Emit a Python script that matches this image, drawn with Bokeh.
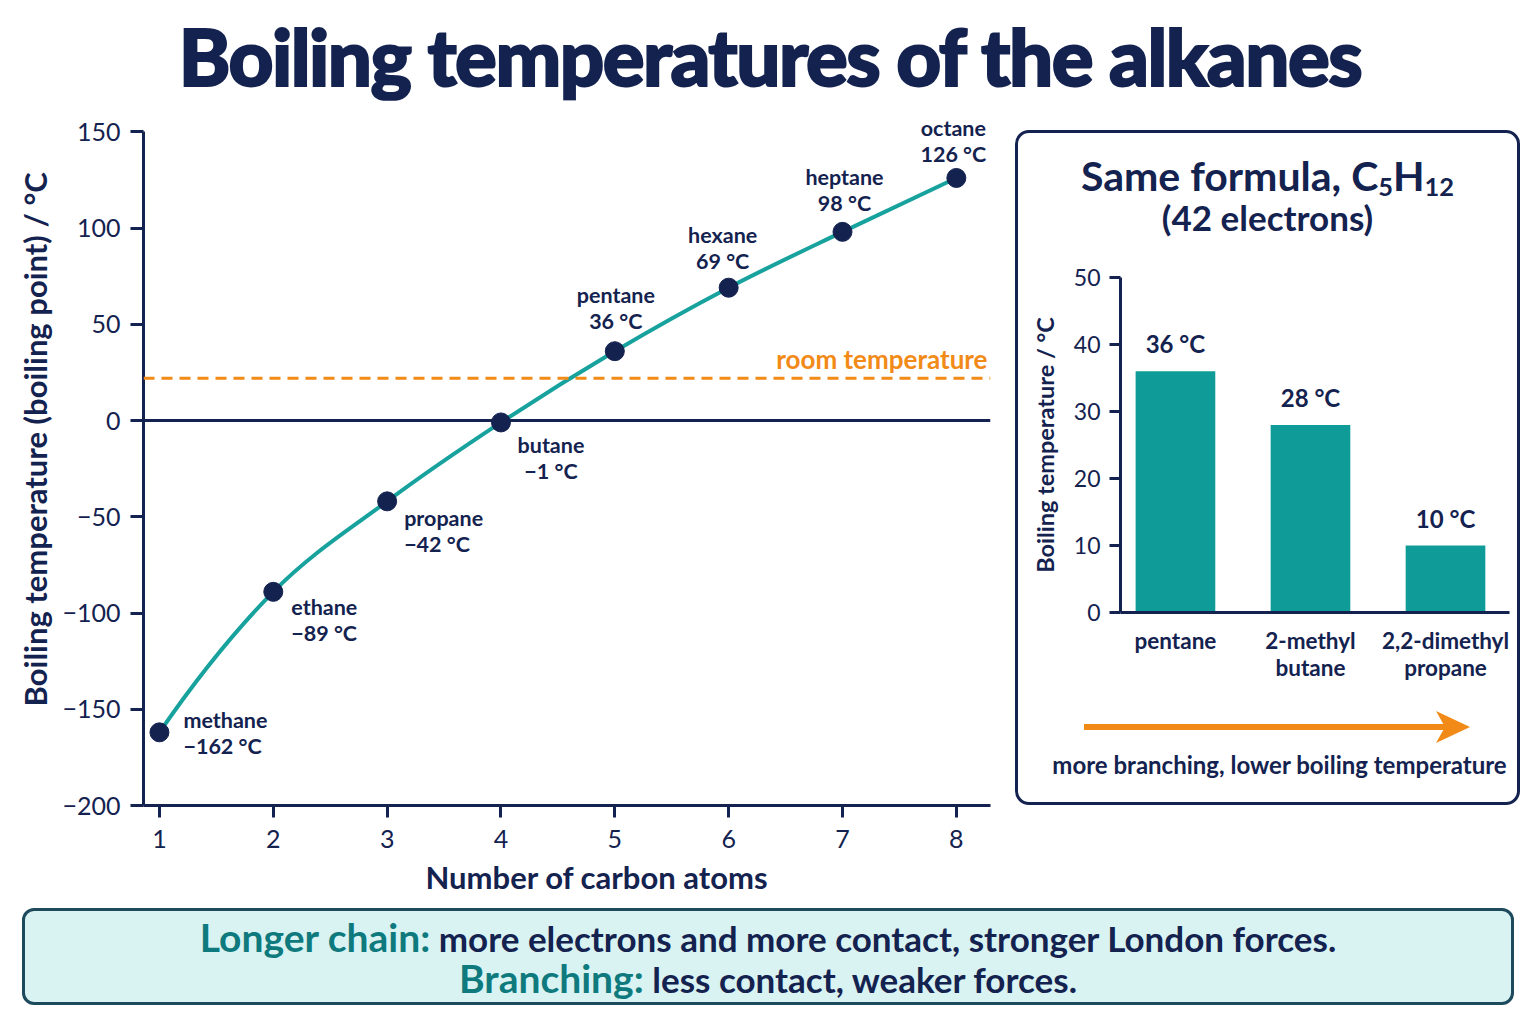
import numpy as np
from bokeh.plotting import figure
from bokeh.models import (ColumnDataSource, FixedTicker, Span, Div, Range1d, Spacer, Title)
from bokeh.layouts import column, row
from bokeh.core.properties import value
from bokeh.embed import file_html
from bokeh.resources import INLINE

# ---------------- data ----------------
alkane_names = ["methane", "ethane", "propane", "butane", "pentane", "hexane", "heptane", "octane"]
carbon_atoms = [1, 2, 3, 4, 5, 6, 7, 8]
boiling_points = [-162, -89, -42, -1, 36, 69, 98, 126]
room_temperature = 22
x_tick_values = [1, 2, 3, 4, 5, 6, 7, 8]
y_tick_values = [-200, -150, -100, -50, 0, 50, 100, 150]

isomer_labels = ["pentane", "2-methyl\nbutane", "2,2-dimethyl\npropane"]
isomer_boiling = [36, 28, 10]
bar_y_ticks = [0, 10, 20, 30, 40, 50]

# ---------------- style ----------------
FONT = "Lato"
NAVY = "#14224f"
TEAL = "#17a29d"
BAR_TEAL = "#0f9c98"
ORANGE = "#f28a17"
DARK_TEAL = "#0e7a7d"

# label placement: screen-pixel offsets from each point
label_dx = [24, 18, 17, 50, 1, -6, 2, -3]
label_dy = [1, 28, 30, 36, -43, -40, -42, -37]
label_align = ["left", "left", "left", "center", "center", "center", "center", "center"]


def num(v):
    return ("\u2212" if v < 0 else "") + f"{abs(v)}"


def temp(v):
    return num(v) + " \u00b0C"


def style_axis(ax, size="25px"):
    ax.axis_line_color = NAVY
    ax.axis_line_width = 3
    ax.major_tick_line_color = NAVY
    ax.major_tick_line_width = 3
    ax.major_tick_in = 0
    ax.minor_tick_line_color = None
    ax.major_label_text_font = FONT
    ax.major_label_text_font_size = size
    ax.major_label_text_color = NAVY
    ax.axis_label_text_font = FONT
    ax.axis_label_text_font_style = "bold"
    ax.axis_label_text_color = NAVY


# ---------------- main chart ----------------
p = figure(width=1005, height=800, x_range=Range1d(0.86, 8.3), y_range=Range1d(-200, 160),
           output_backend="svg", toolbar_location=None,
           min_border_left=143, min_border_right=15, min_border_top=12, min_border_bottom=95)
p.outline_line_color = None
p.grid.visible = False

p.add_layout(Span(location=0, dimension="width", line_color=NAVY, line_width=3))
p.add_layout(Span(location=room_temperature, dimension="width", line_color=ORANGE,
                  line_width=3, line_dash="11 7"))
p.text(x=[p.x_range.end], y=[room_temperature], text=["room temperature"],
       x_offset=-3, y_offset=-3, text_align="right", text_baseline="bottom",
       text_font=value(FONT), text_font_style="bold", text_font_size="26px", text_color=ORANGE)

# smooth curve through the points (Catmull-Rom as cubic Bezier segments,
# end tangents from quadratic extrapolation)
xs = np.array(carbon_atoms, float)
ys = np.array(boiling_points, float)
n = len(xs)
xp = np.concatenate([[3 * xs[0] - 3 * xs[1] + xs[2]], xs, [3 * xs[-1] - 3 * xs[-2] + xs[-3]]])
yp = np.concatenate([[3 * ys[0] - 3 * ys[1] + ys[2]], ys, [3 * ys[-1] - 3 * ys[-2] + ys[-3]]])
curve = ColumnDataSource(dict(
    x0=xs[:-1], y0=ys[:-1], x1=xs[1:], y1=ys[1:],
    cx0=xp[1:n] + (xp[2:n + 1] - xp[:n - 1]) / 6, cy0=yp[1:n] + (yp[2:n + 1] - yp[:n - 1]) / 6,
    cx1=xp[2:n + 1] - (xp[3:n + 2] - xp[1:n]) / 6, cy1=yp[2:n + 1] - (yp[3:n + 2] - yp[1:n]) / 6,
))
p.bezier(x0="x0", y0="y0", x1="x1", y1="y1", cx0="cx0", cy0="cy0", cx1="cx1", cy1="cy1",
         line_color=TEAL, line_width=4, source=curve)
p.scatter(carbon_atoms, boiling_points, size=19, fill_color=NAVY, line_color=NAVY)

lab = ColumnDataSource(dict(
    x=carbon_atoms, y=boiling_points,
    text=[f"{nme}\n{temp(v)}" for nme, v in zip(alkane_names, boiling_points)],
    dx=label_dx, dy=label_dy, align=label_align,
))
p.text(x="x", y="y", text="text", x_offset="dx", y_offset="dy", text_align="align",
       text_baseline="middle", text_font=value(FONT), text_font_style="bold",
       text_font_size="21.5px", text_color=NAVY, text_line_height=1.0, source=lab)

p.xaxis.ticker = FixedTicker(ticks=x_tick_values)
p.yaxis.ticker = FixedTicker(ticks=y_tick_values)
p.yaxis.bounds = (y_tick_values[0], y_tick_values[-1])
p.yaxis.major_label_overrides = {v: num(v) for v in y_tick_values}
style_axis(p.xaxis[0])
style_axis(p.yaxis[0])
p.xaxis.major_tick_out = 12
p.yaxis.major_tick_out = 13
p.xaxis.major_label_standoff = 12
p.yaxis.major_label_standoff = 10

p.add_layout(Title(text="Number of carbon atoms", align="left", offset=282, standoff=10,
                   text_font=FONT, text_font_style="bold", text_font_size="31px",
                   text_color=NAVY), "below")
p.add_layout(Title(text="Boiling temperature (boiling point) / \u00b0C", align="left",
                   offset=99, standoff=12, text_font=FONT, text_font_style="bold",
                   text_font_size="31px", text_color=NAVY), "left")

# ---------------- inset bar chart ----------------
INNER_W = 499
header = Div(width=INNER_W, height=124, margin=0, text=(
    f'<div style="width:{INNER_W}px;text-align:center;font-family:{FONT};font-weight:bold;color:{NAVY};">'
    f'<div style="margin-top:23px;height:40px;line-height:40px;font-size:41px;">Same formula, C'
    f'<sub style="font-size:0.62em;line-height:0;vertical-align:-0.2em;">5</sub>H'
    f'<sub style="font-size:0.62em;line-height:0;vertical-align:-0.2em;">12</sub></div>'
    f'<div style="margin-top:3px;height:36px;line-height:36px;font-size:35px;">(42 electrons)</div></div>'))

idx = list(range(len(isomer_labels)))
b = figure(width=INNER_W, height=434, x_range=Range1d(-0.407, 2.474), y_range=Range1d(0, 50),
           output_backend="svg", toolbar_location=None,
           min_border_left=102, min_border_right=8, min_border_top=20, min_border_bottom=79)
b.outline_line_color = None
b.grid.visible = False
b.vbar(x=idx, top=isomer_boiling, width=0.59, fill_color=BAR_TEAL, line_color=None)
b.text(x=idx, y=isomer_boiling, text=[temp(v) for v in isomer_boiling], y_offset=-13,
       text_align="center", text_baseline="bottom", text_font=value(FONT),
       text_font_style="bold", text_font_size="24px", text_color=NAVY)
b.xaxis.ticker = FixedTicker(ticks=idx)
b.xaxis.major_label_overrides = {i: t for i, t in zip(idx, isomer_labels)}
b.yaxis.ticker = FixedTicker(ticks=bar_y_ticks)
style_axis(b.xaxis[0], "22.5px")
style_axis(b.yaxis[0], "23px")
b.xaxis.major_label_text_font_style = "bold"
b.xaxis.major_label_text_line_height = 1.0
b.xaxis.major_tick_out = 0
b.xaxis.major_label_standoff = 14
b.yaxis.major_tick_out = 11
b.yaxis.major_label_standoff = 9
b.yaxis.axis_label = "Boiling temperature / \u00b0C"
b.yaxis.axis_label_text_font_size = "23.5px"
b.yaxis.axis_label_standoff = 12

arrow = Div(width=INNER_W, height=55, margin=0, text=(
    f'<svg width="{INNER_W}" height="55" xmlns="http://www.w3.org/2000/svg">'
    f'<line x1="66" y1="36" x2="432" y2="36" stroke="{ORANGE}" stroke-width="6"/>'
    f'<polygon points="452,36 418,20 427,36 418,52" fill="{ORANGE}"/></svg>'))

foot = Div(width=INNER_W, height=56, margin=0, text=(
    f'<div style="width:{INNER_W}px;text-align:center;font-family:{FONT};font-weight:bold;'
    f'color:{NAVY};font-size:24px;line-height:38px;padding-left:24px;box-sizing:border-box;">'
    f'more branching, lower boiling temperature</div>'))

inset = column(header, b, arrow, foot,
               styles={"border": f"3px solid {NAVY}", "border-radius": "14px",
                       "background-color": "white"})

# ---------------- title & takeaway ----------------
title = Div(width=1536, height=100, margin=0, text=(
    f'<div style="width:1536px;text-align:center;font-family:{FONT};font-weight:900;'
    f'font-size:78px;line-height:100px;letter-spacing:-1.5px;color:{NAVY};'
    f'-webkit-text-stroke:2px {NAVY};padding-top:6px;padding-left:4px;'
    f'box-sizing:border-box;">Boiling temperatures of the alkanes</div>'))

bottom = Div(width=1492, height=97, margin=0, text=(
    f'<div style="width:1492px;height:97px;box-sizing:border-box;border:3px solid #1d4a5c;'
    f'border-radius:12px;background:#d9f3f3;text-align:center;font-family:{FONT};'
    f'font-weight:bold;color:{NAVY};">'
    f'<div style="line-height:40px;padding-top:6px;font-size:35px;">'
    f'<span style="color:{DARK_TEAL};font-size:39px;">Longer chain:</span> '
    f'more electrons and more contact, stronger London forces.</div>'
    f'<div style="line-height:40px;font-size:35px;">'
    f'<span style="color:{DARK_TEAL};font-size:39px;">Branching:</span> '
    f'less contact, weaker forces.</div></div>'))

layout = column(
    title,
    row(p, Spacer(width=10), column(Spacer(height=30), inset)),
    Spacer(height=8),
    row(Spacer(width=22), bottom),
)

open("out.html", "w").write(file_html(layout, INLINE))
